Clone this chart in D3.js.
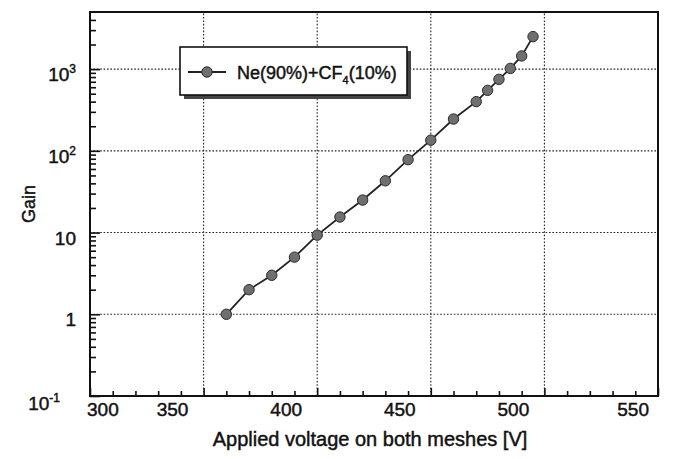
<!DOCTYPE html>
<html>
<head>
<meta charset="utf-8">
<script src="https://cdn.jsdelivr.net/npm/d3@7"></script>
<style>
  body { margin: 0; background: #fff; }
  svg { display: block; }
  text { font-family: "Liberation Sans", Arial, Helvetica, sans-serif; fill: #111; stroke: #111; stroke-width: 0.45px; }
</style>
</head>
<body>
<svg id="chart" width="687" height="459"></svg>
<script>
// Gain curve of the mesh detector in Ne(90%)+CF4(10%)
const voltages = [360, 370, 380, 390, 400, 410, 420, 430, 440, 450, 460, 470, 475, 480, 485, 490, 495];
const gains    = [1.0, 2.0, 3.0, 5.0, 9.3, 15.5, 25, 43, 78, 135, 245, 400, 550, 750, 1020, 1450, 2500];

const xTickValues = [300, 350, 400, 450, 500, 550];
const yTickValues = [0.1, 1, 10, 100, 1000];
const yTickBase   = ["10", "1", "10", "10", "10"];
const yTickExp    = ["-1", "", "", "2", "3"];

const seriesName = { main: "Ne(90%)+CF", sub: "4", tail: "(10%)" };
const xTitle = "Applied voltage on both meshes [V]";
const yTitle = "Gain";

const svg = d3.select("#chart");
const W = 687, H = 459;
const m = { left: 90, right: 29, top: 12, bottom: 63 };
const x0 = m.left, x1 = W - m.right, y0 = H - m.bottom, y1 = m.top;

const x = d3.scaleLinear().domain([300, 550]).range([x0, x1]);
const y = d3.scaleLog().domain([0.1, 5000]).range([y0, y1]);

// dotted grid at the major ticks
const grid = svg.append("g").attr("stroke", "#222").attr("stroke-width", 1.1)
  .attr("stroke-dasharray", "1.6,1.8").attr("fill", "none");
grid.selectAll("line.v").data(xTickValues.filter(v => v > 300 && v < 550)).join("line")
  .attr("x1", d => x(d)).attr("x2", d => x(d)).attr("y1", y0).attr("y2", y1);
grid.selectAll("line.h").data(yTickValues.filter(v => v > 0.1)).join("line")
  .attr("x1", x0).attr("x2", x1).attr("y1", d => y(d)).attr("y2", d => y(d));

// left axis: ticks point into the plot
const yMinor = [];
for (let k = -1; k <= 3; k++) for (let j = 2; j <= 9; j++) {
  const v = j * Math.pow(10, k);
  if (v < 5000) yMinor.push(v);
}
const yAxisMajor = d3.axisRight(y).tickValues(yTickValues).tickSize(10).tickFormat("");
const yAxisMinor = d3.axisRight(y).tickValues(yMinor).tickSize(6).tickFormat("");
[yAxisMajor, yAxisMinor].forEach(a => {
  const g = svg.append("g").attr("transform", `translate(${x0},0)`).call(a);
  g.select(".domain").remove();
  g.selectAll("line").attr("stroke", "#111").attr("stroke-width", 1.6);
});

// bottom axis: ticks point up into the plot
const xMinor = d3.range(310, 550, 10).filter(v => v % 50 !== 0);
const xAxisMajor = d3.axisTop(x).tickValues(xTickValues).tickSize(8).tickFormat("");
const xAxisMinor = d3.axisTop(x).tickValues(xMinor).tickSize(5).tickFormat("");
[xAxisMajor, xAxisMinor].forEach(a => {
  const g = svg.append("g").attr("transform", `translate(0,${y0})`).call(a);
  g.select(".domain").remove();
  g.selectAll("line").attr("stroke", "#111").attr("stroke-width", 1.6);
});

// frame
svg.append("rect").attr("x", x0).attr("y", y1).attr("width", x1 - x0).attr("height", y0 - y1)
  .attr("fill", "none").attr("stroke", "#111").attr("stroke-width", 2);

// y tick labels with exponents
const yLab = svg.append("g").attr("font-size", 19).attr("text-anchor", "end");
yTickValues.forEach((v, i) => {
  const bottom = i === 0;
  const t = yLab.append("text")
    .attr("x", bottom ? x0 - 30 : x0 - 14)
    .attr("y", y(v) + (bottom ? 14 : 12));
  t.append("tspan").text(yTickBase[i]);
  if (yTickExp[i]) t.append("tspan").attr("font-size", 12).attr("dy", -8).text(yTickExp[i]);
});

// x tick labels
const xLab = svg.append("g").attr("font-size", 19);
xTickValues.forEach((v, i) => {
  const first = i === 0, last = i === xTickValues.length - 1;
  xLab.append("text")
    .attr("x", first ? x(v) - 3 : last ? x(v) - 9 : x(v) - 31)
    .attr("y", y0 + 20)
    .attr("text-anchor", first ? "start" : last ? "end" : "middle")
    .text(v);
});

// axis titles
svg.append("text").attr("x", 370).attr("y", H - 13).attr("text-anchor", "middle")
  .attr("font-size", 20).text(xTitle);
svg.append("text").attr("transform", "translate(35,204) rotate(-90)")
  .attr("text-anchor", "middle").attr("font-size", 18).text(yTitle);

// data series
const pts = voltages.map((v, i) => [v, gains[i]]);
svg.append("path").datum(pts)
  .attr("fill", "none").attr("stroke", "#222").attr("stroke-width", 1.8)
  .attr("d", d3.line().x(d => x(d[0])).y(d => y(d[1])));
svg.append("g").selectAll("circle").data(pts).join("circle")
  .attr("cx", d => x(d[0])).attr("cy", d => y(d[1])).attr("r", 5.2)
  .attr("fill", "#6f6f6f").attr("stroke", "#2a2a2a").attr("stroke-width", 1);

// legend with drop shadow
const lg = svg.append("g").attr("transform", "translate(180,47)");
lg.append("rect").attr("x", 4).attr("y", 4).attr("width", 227).attr("height", 48).attr("fill", "#444");
lg.append("rect").attr("width", 227).attr("height", 48).attr("fill", "#fff")
  .attr("stroke", "#111").attr("stroke-width", 1.6);
lg.append("line").attr("x1", 8).attr("x2", 46).attr("y1", 25).attr("y2", 25)
  .attr("stroke", "#222").attr("stroke-width", 1.8);
lg.append("circle").attr("cx", 27).attr("cy", 25).attr("r", 5.2)
  .attr("fill", "#6f6f6f").attr("stroke", "#2a2a2a").attr("stroke-width", 1);
const lt = lg.append("text").attr("x", 57).attr("y", 32).attr("font-size", 18);
lt.append("tspan").text(seriesName.main);
lt.append("tspan").attr("font-size", 11).attr("dy", 5).text(seriesName.sub);
lt.append("tspan").attr("dy", -5).text(seriesName.tail);
</script>
</body>
</html>
